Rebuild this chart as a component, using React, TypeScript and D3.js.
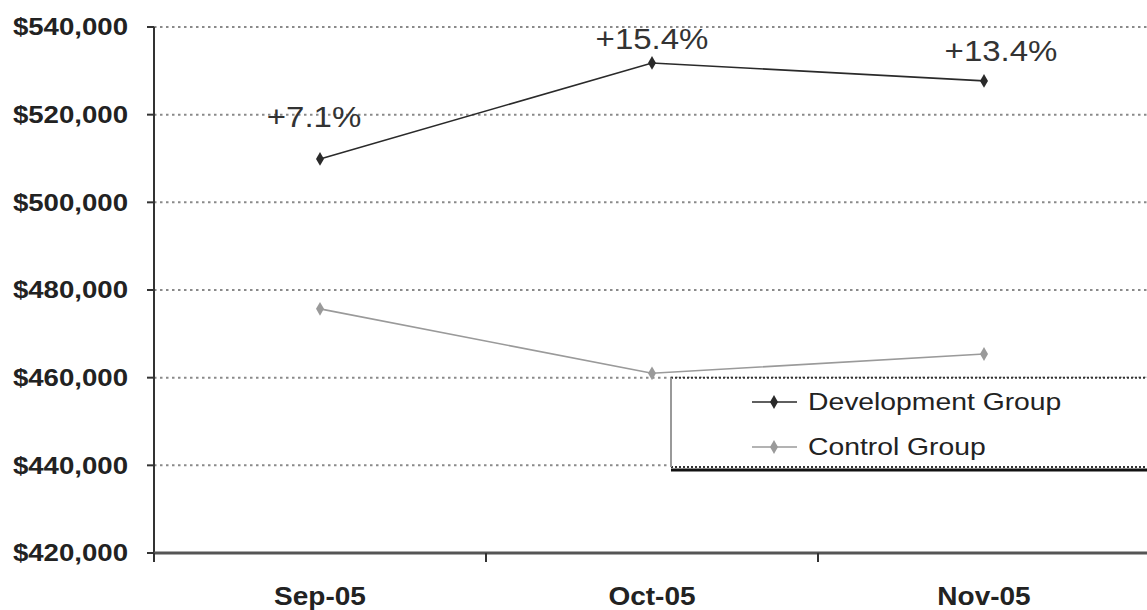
import React from "react";
import * as d3 from "d3";

const categories = ["Sep-05", "Oct-05", "Nov-05"];
const devValues = [509900, 531800, 527700];
const ctrlValues = [475700, 461000, 465400];
const yTicks = [420000, 440000, 460000, 480000, 500000, 520000, 540000];
const pctLabels = ["+7.1%", "+15.4%", "+13.4%"];
const pctOffsets = [
  { dx: -6, dy: -32 },
  { dx: 0, dy: -14 },
  { dx: 17, dy: -20 },
];
const seriesNames = ["Development Group", "Control Group"];

const W = 1147;
const H = 610;
const FONT = "'Liberation Sans', Arial, sans-serif";

export default function App() {
  const x = d3.scaleBand<string>().domain(categories).range([154, 1150]);
  const y = d3.scaleLinear().domain([420000, 540000]).range([553, 27]);
  const fmt = (v: number) => "$" + d3.format(",")(v);
  const diamond = d3.symbol().type(d3.symbolDiamond).size(55)() as string;
  const line = d3
    .line<number>()
    .x((_, i) => (x(categories[i]) as number) + x.bandwidth() / 2)
    .y((v) => y(v));
  const cx = (i: number) => (x(categories[i]) as number) + x.bandwidth() / 2;

  const series = [
    { name: seriesNames[0], values: devValues, color: "#2a2a2a", width: 1.6 },
    { name: seriesNames[1], values: ctrlValues, color: "#9a9a9a", width: 1.6 },
  ];

  const legendX = 671;
  const legendTop = y(460000);
  const legendBottom = 467;

  return (
    <svg
      width={W}
      height={H}
      style={{ position: "absolute", left: 0, top: 0, background: "#fff" }}
      fontFamily={FONT}
    >
      <rect width={W} height={H} fill="#fff" />
      {/* gridlines */}
      {yTicks.slice(1).map((t) => (
        <line
          key={t}
          x1={154}
          x2={W}
          y1={y(t)}
          y2={y(t)}
          stroke="#8a8a8a"
          strokeWidth={2}
          strokeDasharray="2.5,3.5"
        />
      ))}
      {/* y axis */}
      <line x1={154} x2={154} y1={y(540000)} y2={y(420000)} stroke="#333" strokeWidth={2} />
      {yTicks.map((t) => (
        <g key={t}>
          <line x1={147} x2={154} y1={y(t)} y2={y(t)} stroke="#333" strokeWidth={2} />
          <text
            transform={`translate(128,${y(t)}) scale(1.15,1)`}
            textAnchor="end"
            dominantBaseline="central"
            fontSize={24}
            fontWeight="bold"
            fill="#222"
          >
            {fmt(t)}
          </text>
        </g>
      ))}
      {/* x axis */}
      <line x1={154} x2={W} y1={y(420000)} y2={y(420000)} stroke="#555" strokeWidth={3} />
      {categories.map((c, i) => (
        <line
          key={"tk" + c}
          x1={(x(c) as number) + (i === 0 ? 0 : 0)}
          x2={x(c) as number}
          y1={553}
          y2={562}
          stroke="#333"
          strokeWidth={2}
        />
      ))}
      <line x1={x("Nov-05")! + x.bandwidth()} x2={x("Nov-05")! + x.bandwidth()} y1={553} y2={562} stroke="#333" strokeWidth={2} />
      {categories.map((c, i) => (
        <text
          key={"xl" + c}
          transform={`translate(${cx(i)},605) scale(1.12,1)`}
          textAnchor="middle"
          fontSize={25}
          fontWeight="bold"
          fill="#222"
        >
          {c}
        </text>
      ))}
      {/* series */}
      {series.map((s) => (
        <g key={s.name}>
          <path d={line(s.values) as string} fill="none" stroke={s.color} strokeWidth={s.width} />
          {s.values.map((v, i) => (
            <path key={i} d={diamond} transform={`translate(${cx(i)},${y(v)})`} fill={s.color} />
          ))}
        </g>
      ))}
      {/* percentage annotations */}
      {pctLabels.map((p, i) => (
        <text
          key={p}
          transform={`translate(${cx(i) + pctOffsets[i].dx},${y(devValues[i]) + pctOffsets[i].dy}) scale(1.1,1)`}
          textAnchor="middle"
          fontSize={30}
          fill="#333"
        >
          {p}
        </text>
      ))}
      {/* legend */}
      <rect x={legendX} y={legendTop} width={W - legendX + 10} height={legendBottom - legendTop} fill="#fff" />
      <line x1={legendX} x2={W} y1={legendTop} y2={legendTop} stroke="#333" strokeWidth={2} strokeDasharray="2,2" />
      <line x1={legendX} x2={W} y1={legendBottom} y2={legendBottom} stroke="#333" strokeWidth={2} strokeDasharray="2,2" />
      <line x1={legendX} x2={W} y1={legendBottom + 3} y2={legendBottom + 3} stroke="#111" strokeWidth={3} />
      <line x1={legendX} x2={legendX} y1={legendTop} y2={legendBottom} stroke="#999" strokeWidth={2} />
      {series.map((s, i) => {
        const ly = 402 + i * 45;
        return (
          <g key={"lg" + s.name}>
            <line x1={752} x2={797} y1={ly} y2={ly} stroke={s.color} strokeWidth={s.width} />
            <path d={diamond} transform={`translate(774,${ly})`} fill={s.color} />
            <text
              transform={`translate(808,${ly}) scale(1.18,1)`}
              dominantBaseline="central"
              fontSize={24}
              fill="#222"
            >
              {s.name}
            </text>
          </g>
        );
      })}
    </svg>
  );
}
